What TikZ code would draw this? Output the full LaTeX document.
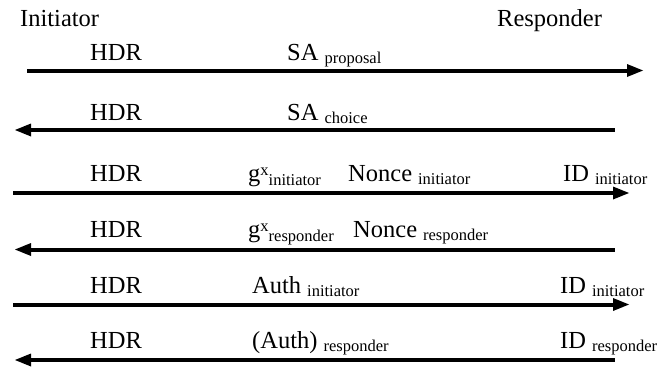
\documentclass[tikz,border=0pt]{standalone}
\usepackage{fontspec}
\setmainfont{Liberation Serif}
\newcommand{\mainsize}{\fontsize{24.5}{29}\selectfont}
\newcommand{\subsize}{\fontsize{16.5}{19}\selectfont}
\newcommand{\lowsub}[1]{\kern6pt\raisebox{-3.5pt}{\subsize #1}}
\newcommand{\gexp}[1]{g\raisebox{5.5pt}{\subsize x}\raisebox{-4pt}{\subsize #1}}
\begin{document}
\begin{tikzpicture}[x=1pt,y=-1pt,
  msg/.style={line width=4pt},
  lbl/.style={anchor=base west,inner sep=0pt,font=\mainsize}]
\useasboundingbox (0,0) rectangle (660,369);
% parties
\node[lbl] (init) at (20,27) {Initiator};
\node[lbl] (resp) at (497,27) {Responder};
% message 1
\coordinate (a1) at (27,70.5);
\coordinate (b1) at (643,70.5);
\draw[msg,shorten >=8pt] (a1) -- (b1);
\fill (b1) -- ++(-16,-6.5) -- ++(0,13) -- cycle;
\node[lbl] (hdr1) at (90,60) {HDR};
\node[lbl] (sa1) at (287,60) {SA\lowsub{proposal}};
% message 2
\coordinate (a2) at (15,130);
\coordinate (b2) at (615,130);
\draw[msg,shorten <=8pt] (a2) -- (b2);
\fill (a2) -- ++(16,-6.5) -- ++(0,13) -- cycle;
\node[lbl] (hdr2) at (90,120) {HDR};
\node[lbl] (sa2) at (287,120) {SA\lowsub{choice}};
% message 3
\coordinate (a3) at (13,193);
\coordinate (b3) at (629,193);
\draw[msg,shorten >=8pt] (a3) -- (b3);
\fill (b3) -- ++(-16,-6.5) -- ++(0,13) -- cycle;
\node[lbl] (hdr3) at (90,181) {HDR};
\node[lbl] (ke3) at (248,181) {\gexp{initiator}};
\node[lbl] (ni3) at (348,181) {Nonce\lowsub{initiator}};
\node[lbl] (id3) at (563,181) {ID\lowsub{initiator}};
% message 4
\coordinate (a4) at (15,249.5);
\coordinate (b4) at (615,249.5);
\draw[msg,shorten <=8pt] (a4) -- (b4);
\fill (a4) -- ++(16,-6.5) -- ++(0,13) -- cycle;
\node[lbl] (hdr4) at (90,237) {HDR};
\node[lbl] (ke4) at (248,237) {\gexp{responder}};
\node[lbl] (nr4) at (353,237) {Nonce\lowsub{responder}};
% message 5
\coordinate (a5) at (13,304.5);
\coordinate (b5) at (629,304.5);
\draw[msg,shorten >=8pt] (a5) -- (b5);
\fill (b5) -- ++(-16,-6.5) -- ++(0,13) -- cycle;
\node[lbl] (hdr5) at (90,293) {HDR};
\node[lbl] (au5) at (252,293) {Auth\lowsub{initiator}};
\node[lbl] (id5) at (560,293) {ID\lowsub{initiator}};
% message 6
\coordinate (a6) at (15,360);
\coordinate (b6) at (615,360);
\draw[msg,shorten <=8pt] (a6) -- (b6);
\fill (a6) -- ++(16,-6.5) -- ++(0,13) -- cycle;
\node[lbl] (hdr6) at (90,348) {HDR};
\node[lbl] (au6) at (252,348) {(Auth)\lowsub{responder}};
\node[lbl] (id6) at (560,348) {ID\lowsub{responder}};
\end{tikzpicture}
\end{document}
